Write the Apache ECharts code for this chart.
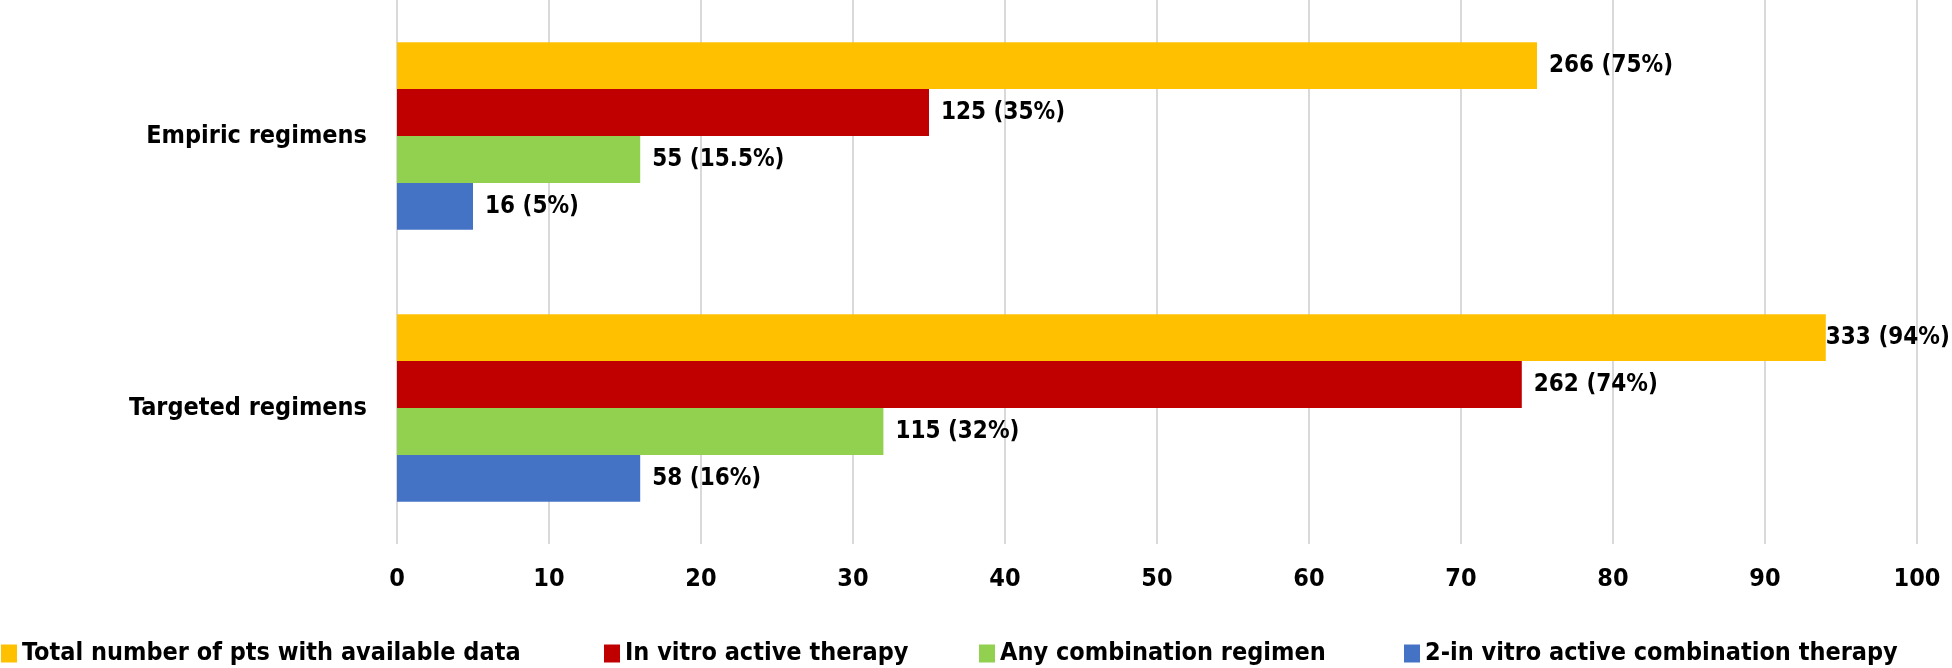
<!DOCTYPE html>
<html><head><meta charset="utf-8">
<script src="https://cdn.jsdelivr.net/npm/echarts@6/dist/echarts.min.js"></script>
<style>html,body{margin:0;padding:0;background:#fff}#c{width:1952px;height:668px}</style>
</head><body><div id="c"></div>
<script>
const categories = ["Empiric regimens", "Targeted regimens"];
const seriesNames = ["Total number of pts with available data", "In vitro active therapy", "Any combination regimen", "2-in vitro active combination therapy"];
const totalPts = [75, 94];
const inVitroActive = [35, 74];
const anyCombination = [16, 32];
const twoInVitro = [5, 16];
const totalLabels = ["266 (75%)", "333 (94%)"];
const inVitroLabels = ["125 (35%)", "262 (74%)"];
const combLabels = ["55 (15.5%)", "115 (32%)"];
const twoLabels = ["16 (5%)", "58 (16%)"];
const xTicks = [0, 10, 20, 30, 40, 50, 60, 70, 80, 90, 100];

const colors = ["#FFC000", "#C00000", "#92D050", "#4472C4"];
const FONT = "'Liberation Sans Narrow', 'Arial Narrow', 'DejaVu Sans Condensed', sans-serif";

function mk(name, vals, labels, color) {
  return {
    name: name, type: 'bar', barGap: '0%', barCategoryGap: '31%',
    itemStyle: {color: color},
    data: vals.map((v, i) => ({
      value: v,
      label: {formatter: labels[i], distance: (v > 90 ? 0 : 12)}
    })),
    label: {show: true, position: 'right', color: '#000', fontFamily: FONT, fontWeight: 'bold', fontSize: 24},
    animation: false
  };
}

const chart = echarts.init(document.getElementById('c'));
const legendLefts = [-4, 599, 974, 1399];
chart.setOption({
  animation: false,
  grid: {left: 397, right: 35, top: 0, bottom: 124, containLabel: false},
  legend: seriesNames.map((n, i) => ({
    data: [n], left: legendLefts[i], top: 636, itemWidth: 16, itemHeight: 18, itemGap: 0,
    icon: 'rect', textStyle: {fontFamily: FONT, fontWeight: 'bold', fontSize: 25, color: '#000'},
    selectedMode: false
  })),
  xAxis: {
    type: 'value', min: xTicks[0], max: xTicks[xTicks.length - 1], interval: 10,
    axisLine: {show: false}, axisTick: {show: false},
    splitLine: {show: true, lineStyle: {color: '#D9D9D9', width: 2}},
    axisLabel: {margin: 23, color: '#000', fontFamily: FONT, fontWeight: 'bold', fontSize: 25}
  },
  yAxis: {
    type: 'category', data: categories, inverse: true,
    axisLine: {show: false}, axisTick: {show: false},
    axisLabel: {margin: 30, color: '#000', fontFamily: FONT, fontWeight: 'bold', fontSize: 25}
  },
  series: [
    mk(seriesNames[0], totalPts, totalLabels, colors[0]),
    mk(seriesNames[1], inVitroActive, inVitroLabels, colors[1]),
    mk(seriesNames[2], anyCombination, combLabels, colors[2]),
    mk(seriesNames[3], twoInVitro, twoLabels, colors[3])
  ]
});
</script></body></html>
